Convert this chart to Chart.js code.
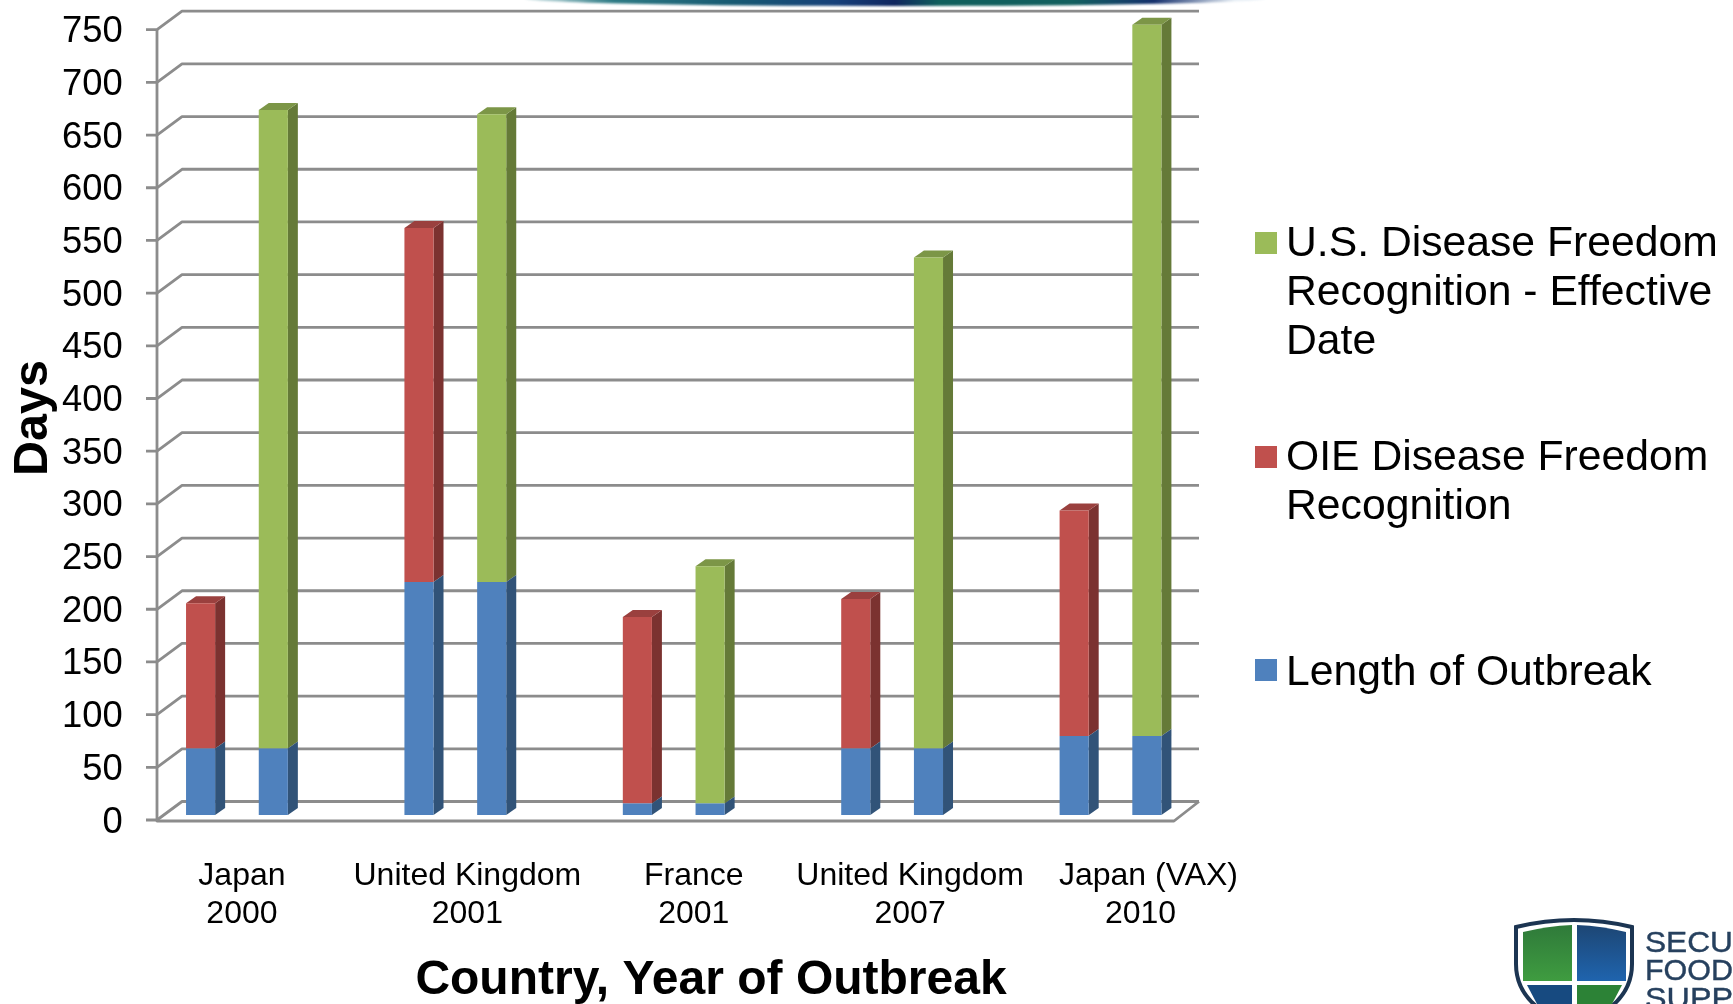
<!DOCTYPE html>
<html>
<head>
<meta charset="utf-8">
<title>Days to disease freedom recognition</title>
<script src="https://cdn.jsdelivr.net/npm/chart.js@4/dist/chart.umd.min.js"></script>
<style>
  html, body { margin: 0; padding: 0; background: #fff; overflow: hidden; }
  #wrap { position: relative; width: 1733px; height: 1004px; overflow: hidden; }
  #wrap canvas { display: block; }
  .band { position: absolute; left: 525px; top: -9px; width: 740px; height: 15px; border-radius: 50%; filter: blur(1px);
    background: linear-gradient(90deg, #cfe3e6 0%, #2d7a84 12%, #175a72 28%, #16407a 42%, #10265e 50%, #0f5f5c 56%, #12605f 74%, #15306c 85%, #e6eef5 96%); }
  #logo { position: absolute; left: 1500px; top: 904px; }
</style>
</head>
<body>
<div id="wrap">
  <canvas id="chart" width="1733" height="1004"></canvas>
  <div class="band"></div>
  <svg id="logo" width="233" height="100" viewBox="0 0 233 100">
    <defs>
      <linearGradient id="shieldGreen" x1="0" y1="0" x2="0" y2="1"><stop offset="0" stop-color="#2f7a3a"/><stop offset="1" stop-color="#3f9c40"/></linearGradient>
      <linearGradient id="shieldBlue" x1="0" y1="0" x2="0" y2="1"><stop offset="0" stop-color="#1d4674"/><stop offset="1" stop-color="#1f64ae"/></linearGradient>
    </defs>
    <path d="M16 23 Q74 9 132 23 L132 60 Q132 85 112 102 L36 102 Q16 85 16 60 Z" fill="#fff" stroke="#1c3552" stroke-width="4"/>
    <path d="M23 28 Q48 22 72 21 L72 77 L23 77 Z" fill="url(#shieldGreen)"/>
    <path d="M77 21 Q102 22 126 28 L126 77 L77 77 Z" fill="url(#shieldBlue)"/>
    <path d="M27 81 L72 81 L72 100 L37 100 Z" fill="#174a80"/>
    <path d="M77 81 L122 81 L112 100 L77 100 Z" fill="#2c8236"/>
    <g font-family="Liberation Sans" font-size="30" fill="#26405e" stroke="#26405e" stroke-width="0.4">
      <text x="145" y="48" textLength="88" lengthAdjust="spacingAndGlyphs">SECU</text>
      <text x="145" y="76" textLength="88" lengthAdjust="spacingAndGlyphs">FOOD</text>
      <text x="145" y="104" textLength="88" lengthAdjust="spacingAndGlyphs">SUPP</text>
    </g>
  </svg>
</div>
<script>
const categories = [["Japan", "2000"], ["United Kingdom", "2001"], ["France", "2001"], ["United Kingdom", "2007"], ["Japan (VAX)", "2010"]];
const yTicks = [0, 50, 100, 150, 200, 250, 300, 350, 400, 450, 500, 550, 600, 650, 700, 750];

// the outbreak length is stacked under both columns of each pair
const outbreakDays = [63, 221, 11, 63, 75];
const oieDays = [138, 336, 177, 142, 214];
const usDays = [606, 444, 225, 466, 675];

const legendItems = [
  { color: "#9bbb59", lines: ["U.S. Disease Freedom", "Recognition - Effective", "Date"], boxY: 232, baseline: 256 },
  { color: "#c0504d", lines: ["OIE Disease Freedom", "Recognition"], boxY: 446, baseline: 470 },
  { color: "#4f81bd", lines: ["Length of Outbreak"], boxY: 659, baseline: 685 }
];

// centre of each category caption line relative to its tick
const captionShift = [[5, 5], [12, 12], [20, 20], [18, 18], [38, 30]];

const GRID = "#8c8c8c";
const SIDE = { "#4f81bd": "#315378", "#c0504d": "#7b3230", "#9bbb59": "#657a38" };
// blue always has another segment on top of it, so it needs no top face
const TOP = { "#c0504d": "#9a403e", "#9bbb59": "#7c9647" };

const FONT = '"Liberation Sans", Arial, sans-serif';
const wall = { left: 157, right: 1174, depthX: 25, depthY: 18.5 };
const bar3d = { depthX: 10, depthY: 7, lift: 5 };

// walls, floor and tick marks sit behind the columns
const wallsPlugin = {
  id: "walls",
  beforeDatasetsDraw(chart) {
    const { ctx, scales: { y } } = chart;
    ctx.save();
    ctx.strokeStyle = GRID;
    ctx.lineWidth = 2.8;
    ctx.lineJoin = "round";
    yTicks.forEach(v => {
      const py = y.getPixelForValue(v);
      ctx.beginPath();
      ctx.moveTo(wall.left - 11, py);
      ctx.lineTo(wall.left, py);
      ctx.lineTo(wall.left + wall.depthX, py - wall.depthY);
      ctx.lineTo(wall.right + wall.depthX, py - wall.depthY);
      ctx.stroke();
    });
    const py0 = y.getPixelForValue(0);
    ctx.beginPath();
    ctx.moveTo(wall.left, y.getPixelForValue(750));
    ctx.lineTo(wall.left, py0 + 1);
    ctx.lineTo(wall.right, py0 + 1);
    ctx.lineTo(wall.right + wall.depthX, py0 - wall.depthY);
    ctx.stroke();
    ctx.restore();
  }
};

// columns are lifted off the front edge and get a side and top face
const columnsPlugin = {
  id: "columns",
  beforeDatasetsDraw(chart) {
    chart.ctx.save();
    chart.ctx.translate(0, -bar3d.lift);
  },
  beforeDatasetDraw(chart, args) {
    const { ctx } = chart;
    const color = chart.data.datasets[args.index].backgroundColor;
    const { depthX: dx, depthY: dy } = bar3d;
    args.meta.data.forEach(bar => {
      const { x, y, base, width } = bar.getProps(["x", "y", "base", "width"], true);
      const r = x + width / 2;
      ctx.fillStyle = SIDE[color];
      ctx.beginPath();
      ctx.moveTo(r, y);
      ctx.lineTo(r + dx, y - dy);
      ctx.lineTo(r + dx, base - dy);
      ctx.lineTo(r, base);
      ctx.closePath();
      ctx.fill();
      if (!TOP[color]) return;
      ctx.fillStyle = TOP[color];
      ctx.beginPath();
      ctx.moveTo(x - width / 2, y);
      ctx.lineTo(x - width / 2 + dx, y - dy);
      ctx.lineTo(r + dx, y - dy);
      ctx.lineTo(r, y);
      ctx.closePath();
      ctx.fill();
    });
  },
  afterDatasetsDraw(chart) {
    chart.ctx.restore();
  }
};

// category captions, axis titles and the wrapped legend
const textPlugin = {
  id: "chartText",
  afterDraw(chart) {
    const { ctx, scales: { x } } = chart;
    ctx.save();
    ctx.fillStyle = "#000";
    ctx.textBaseline = "alphabetic";

    ctx.textAlign = "center";
    ctx.font = "32px " + FONT;
    categories.forEach((lines, i) => {
      lines.forEach((line, j) => {
        ctx.fillText(line, x.getPixelForTick(i) + captionShift[i][j], 885 + j * 38);
      });
    });

    ctx.font = "bold 48px " + FONT;
    ctx.fillText("Country, Year of Outbreak", 711, 994);
    ctx.save();
    ctx.translate(47, 418);
    ctx.rotate(-Math.PI / 2);
    ctx.font = "bold 48.5px " + FONT;
    ctx.fillText("Days", 0, 0);
    ctx.restore();

    ctx.textAlign = "left";
    ctx.font = "42.7px " + FONT;
    legendItems.forEach(item => {
      ctx.fillStyle = item.color;
      ctx.fillRect(1255, item.boxY, 22, 22);
      ctx.fillStyle = "#000";
      item.lines.forEach((line, j) => ctx.fillText(line, 1286, item.baseline + j * 49));
    });
    ctx.restore();
  }
};

new Chart(document.getElementById("chart"), {
  type: "bar",
  data: {
    labels: categories,
    datasets: [
      { label: "Length of Outbreak", data: outbreakDays, stack: "oie", backgroundColor: "#4f81bd" },
      { label: "OIE Disease Freedom Recognition", data: oieDays, stack: "oie", backgroundColor: "#c0504d" },
      { label: "Length of Outbreak", data: outbreakDays, stack: "us", backgroundColor: "#4f81bd" },
      { label: "U.S. Disease Freedom Recognition - Effective Date", data: usDays, stack: "us", backgroundColor: "#9bbb59" }
    ]
  },
  plugins: [wallsPlugin, columnsPlugin, textPlugin],
  options: {
    responsive: false,
    animation: false,
    events: [],
    layout: { padding: { left: 0, top: 29.7, right: 513.3, bottom: 0 } },
    datasets: { bar: { categoryPercentage: 0.666, barPercentage: 0.4, clip: false } },
    plugins: { legend: { display: false }, tooltip: { enabled: false } },
    scales: {
      x: {
        stacked: true,
        grid: { display: false },
        border: { display: false },
        ticks: { display: false },
        afterFit(scale) { scale.height = 184; }
      },
      y: {
        stacked: true,
        min: 0,
        max: 750,
        afterBuildTicks(scale) { scale.ticks = yTicks.map(value => ({ value })); },
        afterFit(scale) { scale.width = 127.75; },
        grid: { display: false, drawTicks: false },
        border: { display: false },
        ticks: { color: "#000", padding: 5, labelOffset: 2.5, font: { family: FONT, size: 36.4 } }
      }
    }
  }
});
</script>
</body>
</html>
